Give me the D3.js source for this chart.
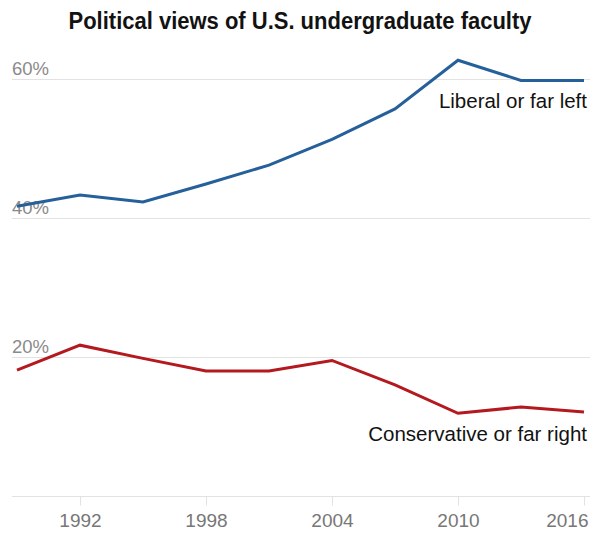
<!DOCTYPE html>
<html>
<head>
<meta charset="utf-8">
<script src="https://cdn.jsdelivr.net/npm/d3@7"></script>
<style>
  body { margin: 0; background: #fff; }
  svg { display: block; }
</style>
</head>
<body>
<div id="container"></div>
<script>
const years = [1989, 1992, 1995, 1998, 2001, 2004, 2007, 2010, 2013, 2016]
const liberal = [41.7, 43.3, 42.3, 44.9, 47.6, 51.3, 55.7, 62.7, 59.8, 59.8]
const conservative = [18.1, 21.7, 19.8, 18.0, 18.0, 19.5, 16.0, 11.9, 12.8, 12.1]
const xTicks = [1992, 1998, 2004, 2010, 2016]
const yTicks = [0, 20, 40, 60]
const seriesNames = ["Liberal or far left", "Conservative or far right"]

const width = 600
const height = 548
const gridLeft = 12
const gridRight = 590

const x = d3.scaleLinear().domain([1989, 2016]).range([17, 584])
const y = d3.scaleLinear().domain([0, 60]).range([496, 79])

const svg = d3.select("#container").append("svg")
    .attr("width", width)
    .attr("height", height)

svg.append("text")
    .attr("x", width / 2)
    .attr("y", 28.5)
    .attr("text-anchor", "middle")
    .attr("font-family", "'Liberation Sans', Arial, sans-serif")
    .attr("font-weight", "bold")
    .attr("font-size", 23.5)
    .attr("textLength", 463)
    .attr("lengthAdjust", "spacingAndGlyphs")
    .attr("fill", "#121212")
    .text("Political views of U.S. undergraduate faculty")

// horizontal grid
svg.selectAll(".grid")
    .data(yTicks)
    .enter()
    .append("line")
    .attr("class", "grid")
    .attr("x1", gridLeft)
    .attr("x2", gridRight)
    .attr("y1", d => y(d) + 0.5)
    .attr("y2", d => y(d) + 0.5)
    .attr("stroke", "#e2e2e2")
    .attr("stroke-width", 1)

svg.selectAll(".ylabel")
    .data(yTicks.filter(d => d > 0))
    .enter()
    .append("text")
    .attr("class", "ylabel")
    .attr("x", gridLeft)
    .attr("y", d => y(d) - 4)
    .attr("font-family", "'Liberation Sans', Arial, sans-serif")
    .attr("font-size", 18.5)
    .attr("fill", "#8a8a8a")
    .text(d => d + "%")

// x axis
const xAxis = svg.append("g")
    .attr("transform", `translate(0, ${y(0) + 0.5})`)
    .call(d3.axisBottom(x).tickValues(xTicks).tickSize(9).tickFormat(d3.format("d")))

xAxis.select(".domain").remove()
xAxis.selectAll(".tick line").attr("stroke", "#e2e2e2")
xAxis.selectAll(".tick text")
    .attr("y", 30.5)
    .attr("dy", null)
    .attr("font-family", "'Liberation Sans', Arial, sans-serif")
    .attr("font-size", 19)
    .attr("fill", "#777")
    .attr("text-anchor", (d, i) => i === xTicks.length - 1 ? "end" : "middle")
    .attr("x", (d, i) => i === xTicks.length - 1 ? 4 : 0)

const line = d3.line()
    .x((d, i) => x(years[i]))
    .y(d => y(d))

const colors = ["#25609b", "#b3191e"]

svg.selectAll(".series")
    .data([liberal, conservative])
    .enter()
    .append("path")
    .attr("class", "series")
    .attr("d", d => line(d))
    .attr("fill", "none")
    .attr("stroke", (d, i) => colors[i])
    .attr("stroke-width", 3)
    .attr("stroke-linejoin", "miter")

svg.selectAll(".slabel")
    .data(seriesNames)
    .enter()
    .append("text")
    .attr("class", "slabel")
    .attr("x", 587)
    .attr("y", (d, i) => i === 0 ? 108 : 441)
    .attr("text-anchor", "end")
    .attr("font-family", "'Liberation Sans', Arial, sans-serif")
    .attr("font-size", 20.5)
    .attr("fill", "#121212")
    .text(d => d)
</script>
</body>
</html>
